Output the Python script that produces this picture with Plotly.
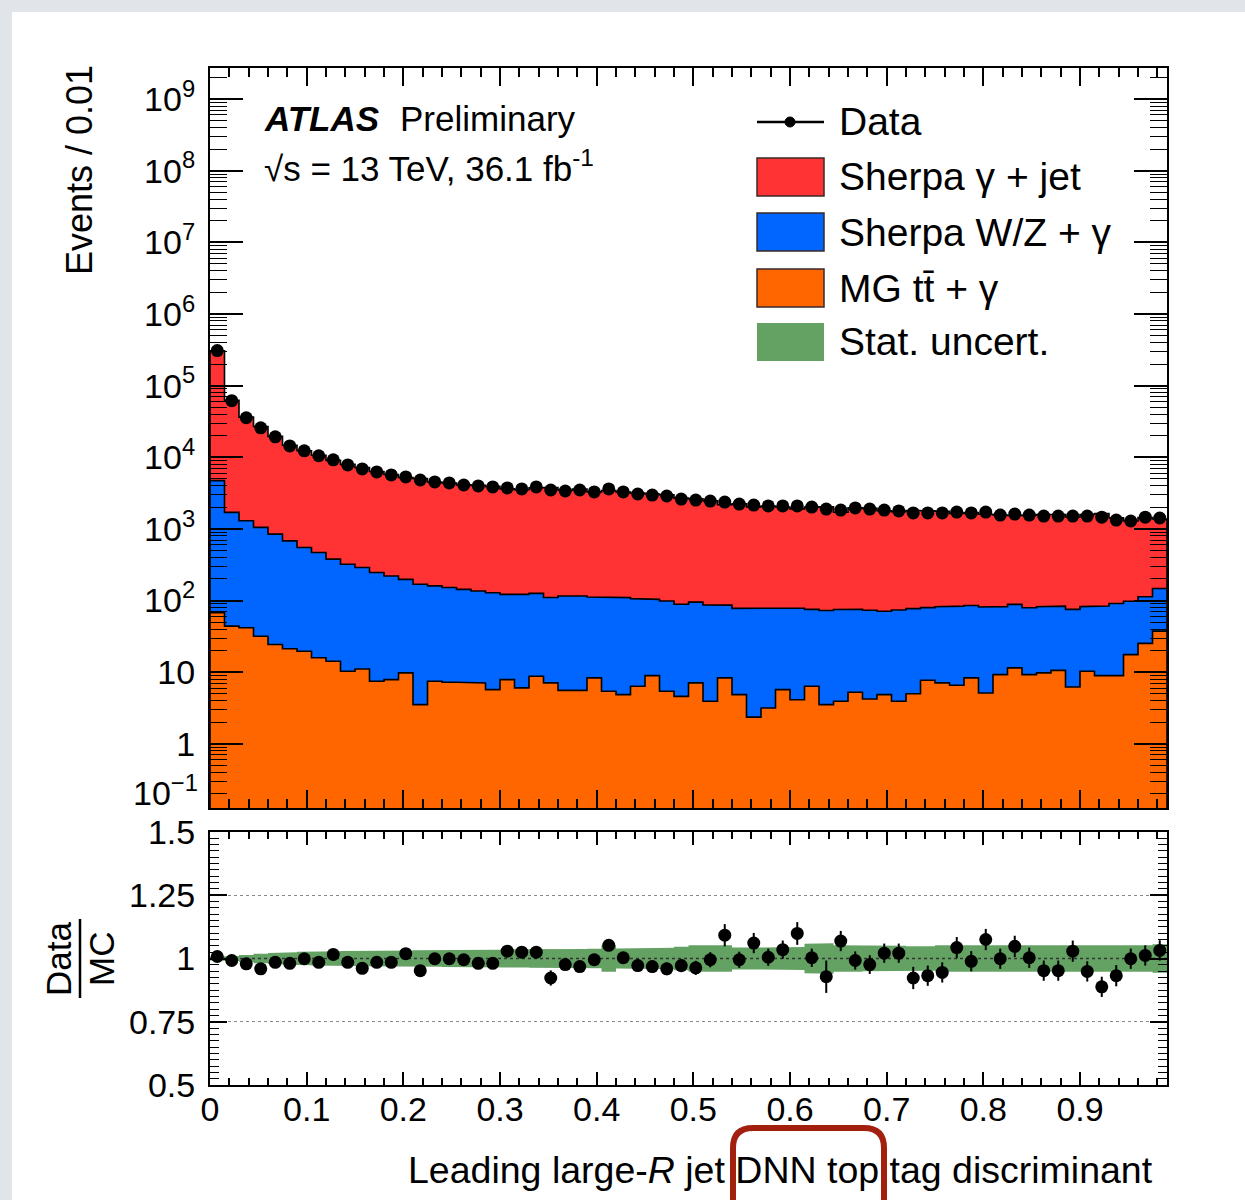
import plotly.graph_objects as go

W, H = 1245, 1200

# ---------------- data ----------------
bin_width = 0.015
n_bins = 66
edges = [round(i * bin_width, 4) for i in range(n_bins + 1)]
centers = [round((edges[i] + edges[i + 1]) / 2, 5) for i in range(n_bins)]

data_events = [309000, 61700, 35600, 25800, 19300, 14400, 12300, 10500, 9200, 7830,
               6880, 6240, 5670, 5310, 4820, 4520, 4380, 4100, 3980, 3850,
               3730, 3610, 3850, 3490, 3380, 3490, 3280, 3610, 3280, 3070,
               2970, 2880, 2610, 2530, 2450, 2370, 2220, 2150, 2090, 2090,
               2090, 2020, 1890, 1830, 1960, 1890, 1830, 1780, 1670, 1670,
               1670, 1720, 1670, 1720, 1560, 1610, 1560, 1510, 1510, 1510,
               1510, 1460, 1330, 1290, 1460, 1420]

gamma_jet = [302000, 60500, 35100, 25850, 18750, 14000, 11760, 10190, 8680, 7630,
             6870, 6090, 5540, 5010, 4890, 4365, 4230, 3980, 3920, 3800,
             3500, 3400, 3630, 3670, 3350, 3490, 3180, 3320, 3160, 3050,
             2960, 2905, 2600, 2530, 2375, 2085, 2155, 1950, 2000, 1940,
             1825, 1940, 1965, 1635, 1900, 1862, 1720, 1670, 1732, 1712,
             1685, 1565, 1603, 1519, 1480, 1448, 1476, 1504, 1502, 1392,
             1509, 1560, 1336, 1193, 1330, 1229]

wz_gamma = [4652, 1656, 1258, 1018, 821, 660, 531, 453, 364, 311,
            278, 239, 212, 188, 165, 153, 145, 136, 129, 123,
            114, 116, 117, 103, 110, 110, 104, 105, 105, 100,
            95, 93, 84, 88, 83, 78, 73, 77, 76, 74,
            74, 69, 69, 71, 70, 69, 66, 70, 72, 72,
            75, 77, 77, 76, 73, 77, 70, 72, 73, 69,
            72, 75, 82, 80, 88, 110]

tt_gamma = [67.7, 44, 41.7, 31.8, 24.4, 21.2, 19.6, 15.9, 14.2, 10.3,
            11.1, 7.46, 7.88, 9.77, 3.52, 7.46, 7.22, 7.22, 7.08, 5.71,
            7.88, 6.03, 8.77, 7.08, 5.58, 5.58, 8.32, 5.41, 4.86, 6.35,
            8.96, 5.41, 4.6, 7.08, 3.92, 8.32, 4.86, 2.36, 3.16, 5.71,
            4.13, 6.35, 3.52, 3.92, 5.24, 4.23, 4.86, 3.92, 5.01, 7.71,
            7.08, 6.56, 8.32, 5.13, 9.25, 11.5, 9.25, 9.77, 10.6, 6.22,
            10.3, 8.96, 8.96, 17.6, 25.2, 37.4]

ratio = [1.008, 0.992, 0.979, 0.959, 0.985, 0.981, 0.999, 0.985, 1.016, 0.985,
         0.961, 0.985, 0.985, 1.019, 0.952, 0.999, 0.999, 0.995, 0.981, 0.981,
         1.029, 1.025, 1.025, 0.923, 0.976, 0.968, 0.995, 1.052, 1.003, 0.972,
         0.968, 0.959, 0.972, 0.963, 0.995, 1.092, 0.995, 1.061, 1.005, 1.035,
         1.099, 1.003, 0.928, 1.069, 0.992, 0.976, 1.021, 1.021, 0.923, 0.932,
         0.945, 1.043, 0.989, 1.075, 0.999, 1.048, 1.003, 0.952, 0.952, 1.029,
         0.949, 0.888, 0.932, 0.999, 1.012, 1.032]

ratio_err = [0.004, 0.006, 0.007, 0.008, 0.008, 0.009, 0.010, 0.010, 0.011, 0.012,
             0.013, 0.013, 0.014, 0.014, 0.015, 0.015, 0.016, 0.016, 0.017, 0.017,
             0.018, 0.018, 0.019, 0.030, 0.020, 0.020, 0.021, 0.022, 0.022, 0.023,
             0.024, 0.025, 0.026, 0.028, 0.030, 0.044, 0.032, 0.040, 0.034, 0.036,
             0.045, 0.036, 0.064, 0.040, 0.036, 0.037, 0.038, 0.038, 0.044, 0.040,
             0.040, 0.042, 0.040, 0.042, 0.040, 0.042, 0.040, 0.040, 0.040, 0.042,
             0.040, 0.040, 0.042, 0.040, 0.040, 0.040]

stat_unc = [0.008, 0.010, 0.014, 0.019, 0.022, 0.025, 0.027, 0.028, 0.029, 0.030,
            0.031, 0.031, 0.032, 0.032, 0.033, 0.033, 0.034, 0.034, 0.035, 0.035,
            0.036, 0.036, 0.037, 0.037, 0.038, 0.038, 0.039, 0.052, 0.040, 0.040,
            0.041, 0.042, 0.046, 0.052, 0.052, 0.052, 0.043, 0.043, 0.043, 0.045,
            0.045, 0.058, 0.060, 0.052, 0.052, 0.050, 0.050, 0.050, 0.048, 0.048,
            0.052, 0.052, 0.052, 0.052, 0.052, 0.052, 0.052, 0.050, 0.050, 0.050,
            0.052, 0.052, 0.052, 0.052, 0.052, 0.056]

for arr in (data_events, gamma_jet, wz_gamma, tt_gamma, ratio, ratio_err, stat_unc):
    assert len(arr) == n_bins, len(arr)

x_tick_vals = [0, 0.1, 0.2, 0.3, 0.4, 0.5, 0.6, 0.7, 0.8, 0.9]
y_decades = [1, 10, 1e2, 1e3, 1e4, 1e5, 1e6, 1e7, 1e8, 1e9]
y_decade_text = ["1", "10"] + ["10<sup>%d</sup>" % k for k in range(2, 10)]
r_tick_vals = [0.5, 0.75, 1, 1.25, 1.5]
r_tick_text = ["0.5", "0.75", "1", "1.25", "1.5"]

# ---------------- colours / helpers ----------------
RED = "#ff3333"
BLUE = "#0066ff"
ORANGE = "#ff6600"
GREEN = "#64a264"
FONT = "Liberation Sans, Arial, Helvetica, sans-serif"


def px(x):
    return x / W


def py(y):
    return 1 - y / H


def step_polygon(vals, floor):
    xs, ys = [edges[0]], [floor]
    for i, v in enumerate(vals):
        xs += [edges[i], edges[i + 1]]
        ys += [v, v]
    xs.append(edges[-1])
    ys.append(floor)
    return xs, ys


# stacked levels
tt_top = list(tt_gamma)
wz_top = [a + b for a, b in zip(tt_gamma, wz_gamma)]
tot_top = [a + b for a, b in zip(wz_top, gamma_jet)]

fig = go.Figure()
FLOOR = 1e-3
for vals, col, name in ((tot_top, RED, "Sherpa γ + jet"),
                        (wz_top, BLUE, "Sherpa W/Z + γ"),
                        (tt_top, ORANGE, "MG tt̄ + γ")):
    xs, ys = step_polygon(vals, FLOOR)
    fig.add_trace(go.Scatter(x=xs, y=ys, mode="lines", fill="toself",
                             fillcolor=col, line=dict(color="black", width=1.6),
                             name=name, showlegend=False, hoverinfo="skip",
                             xaxis="x", yaxis="y"))

fig.add_trace(go.Scatter(x=centers, y=data_events, mode="markers",
                         marker=dict(color="black", size=13),
                         cliponaxis=False, showlegend=False, name="Data",
                         xaxis="x", yaxis="y"))

# ratio panel: stat band
bx, by = [], []
for i in range(n_bins):
    bx += [edges[i], edges[i + 1]]
    by += [1 + stat_unc[i], 1 + stat_unc[i]]
for i in reversed(range(n_bins)):
    bx += [edges[i + 1], edges[i]]
    by += [1 - stat_unc[i], 1 - stat_unc[i]]
fig.add_trace(go.Scatter(x=bx, y=by, mode="lines", fill="toself", fillcolor=GREEN,
                         line=dict(width=0, color=GREEN), showlegend=False,
                         hoverinfo="skip", xaxis="x2", yaxis="y2"))
fig.add_trace(go.Scatter(x=[edges[0], edges[-1]], y=[1, 1], mode="lines",
                         line=dict(color="#333333", width=1.5, dash="dot"),
                         showlegend=False, hoverinfo="skip", xaxis="x2", yaxis="y2"))
fig.add_trace(go.Scatter(x=centers, y=ratio, mode="markers",
                         marker=dict(color="black", size=13),
                         error_y=dict(type="data", array=ratio_err, color="black",
                                      thickness=2, width=0),
                         cliponaxis=False, showlegend=False,
                         xaxis="x2", yaxis="y2"))

xdom = [px(210), px(1167)]
tickfont = dict(family=FONT, size=34, color="black")
common_x = dict(range=[edges[0], edges[-1]], domain=xdom, showline=True,
                linecolor="black", linewidth=2, mirror="ticks", ticks="inside",
                tickcolor="black", tickwidth=1.5, showgrid=False, zeroline=False,
                tickmode="array", tickvals=x_tick_vals, tickfont=tickfont,
                automargin=False)

fig.update_layout(
    width=W, height=H, autosize=False,
    margin=dict(l=0, r=0, t=0, b=0, pad=0, autoexpand=False),
    paper_bgcolor="#e1e4e8", plot_bgcolor="white",
    font=dict(family=FONT, color="black"),
    xaxis=dict(common_x, anchor="y", showticklabels=False, ticklen=18,
               minor=dict(ticks="inside", ticklen=9, dtick=0.02, tick0=0,
                          tickwidth=1.5, tickcolor="black")),
    yaxis=dict(type="log", range=[-0.896, 9.434], domain=[py(808), py(68)],
               anchor="x", showline=True, linecolor="black", linewidth=2,
               mirror="ticks", ticks="inside", ticklen=33, tickwidth=1.5,
               tickcolor="black", tickmode="array", tickvals=y_decades,
               ticktext=y_decade_text, tickfont=tickfont, showgrid=False,
               zeroline=False, ticklabelstandoff=6, automargin=False,
               minor=dict(ticks="inside", ticklen=17, tickwidth=1.2,
                          tickcolor="black",
                          tickvals=[m * 10 ** k for k in range(-1, 10)
                                    for m in range(2, 10)])),
    xaxis2=dict(common_x, anchor="y2", showticklabels=True, ticklen=13,
                ticklabelstandoff=-7,
                minor=dict(ticks="inside", ticklen=7, dtick=0.02, tick0=0,
                           tickwidth=1.5, tickcolor="black")),
    yaxis2=dict(range=[0.5, 1.5], domain=[py(1085), py(832)], anchor="x2",
                showline=True, linecolor="black", linewidth=2, mirror="ticks",
                ticks="inside", ticklen=17, tickwidth=1.5, tickcolor="black",
                tickmode="array", tickvals=r_tick_vals, ticktext=r_tick_text,
                tickfont=tickfont, zeroline=False, ticklabelstandoff=6,
                automargin=False,
                showgrid=True, gridcolor="#8a8a8a", gridwidth=1, griddash="dot",
                minor=dict(ticks="inside", ticklen=9, dtick=0.025, tick0=0.5,
                           tickwidth=1.2, tickcolor="black")),
    showlegend=False,
)

shapes = []
annotations = []

# white slide panel
shapes.append(dict(type="rect", xref="paper", yref="paper", x0=px(12), x1=1,
                   y0=0, y1=py(12), fillcolor="white", line=dict(width=0),
                   layer="below"))


def text(x, y, s, size, xanchor="left", angle=0, yanchor="middle"):
    annotations.append(dict(xref="paper", yref="paper", x=px(x), y=py(y), text=s,
                            showarrow=False, xanchor=xanchor, yanchor=yanchor,
                            textangle=angle,
                            font=dict(family=FONT, size=size, color="black")))


# ATLAS label
text(262, 119, "<b><i>ATLAS</i></b>", 35)
text(398, 119, "Preliminary", 35)
text(262, 166, "√s = 13 TeV, 36.1 fb<sup>-1</sup>", 35)

# legend
leg = [(177, RED, "Sherpa γ + jet", True),
       (232, BLUE, "Sherpa W/Z + γ", True),
       (288, ORANGE, "MG tt̄ + γ", True),
       (342, GREEN, "Stat. uncert.", False)]
for yc, col, lab, border in leg:
    shapes.append(dict(type="rect", xref="paper", yref="paper",
                       x0=px(757), x1=px(824), y0=py(yc + 19), y1=py(yc - 19),
                       fillcolor=col,
                       line=dict(color="#3a2a2a" if border else col,
                                 width=1.5 if border else 0)))
    text(837, yc, lab, 39)
shapes.append(dict(type="line", xref="paper", yref="paper", x0=px(757), x1=px(824),
                   y0=py(122), y1=py(122), line=dict(color="black", width=2.5)))
shapes.append(dict(type="circle", xref="paper", yref="paper", x0=px(785), x1=px(795),
                   y0=py(127), y1=py(117), fillcolor="black",
                   line=dict(color="black", width=1)))
text(837, 121, "Data", 39)

# axis titles
text(80, 170, "Events / 0.01", 36, xanchor="center", angle=-90)
text(1155, 1170, "Leading large-<i>R</i> jet DNN top tag discriminant", 37.5,
     xanchor="right")
text(200, 790, "10<sup>−1</sup>", 34, xanchor="right")

# Data / MC fraction label
text(58, 959, "Data", 35, xanchor="center", angle=-90)
text(101, 959, "MC", 35, xanchor="center", angle=-90)
shapes.append(dict(type="line", xref="paper", yref="paper", x0=px(80), x1=px(80),
                   y0=py(998), y1=py(919), line=dict(color="black", width=2.5)))

# hand-drawn red box around "DNN top"
x0, x1, yt, yb, r = 733, 884, 1128, 1200, 20
path = ("M %f,%f L %f,%f Q %f,%f %f,%f L %f,%f Q %f,%f %f,%f L %f,%f" % (
    px(x0), py(yb), px(x0), py(yt + r), px(x0), py(yt), px(x0 + r), py(yt),
    px(x1 - r), py(yt), px(x1), py(yt), px(x1), py(yt + r), px(x1), py(yb)))
shapes.append(dict(type="path", xref="paper", yref="paper", path=path,
                   line=dict(color="#a3200f", width=6)))

fig.update_layout(shapes=shapes, annotations=annotations)
fig.write_html("out.html",
               post_script="document.body.style.margin='0';"
                           "document.body.style.padding='0';")
